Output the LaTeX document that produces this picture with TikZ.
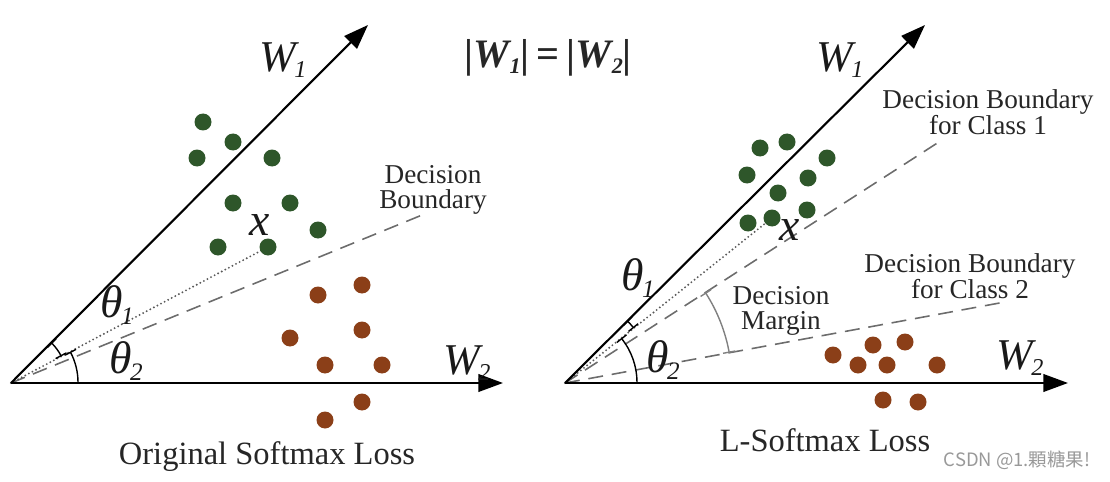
\documentclass[tikz,border=0pt]{standalone}
\usepackage{fontspec}
\setmainfont{Liberation Serif}
\newfontfamily\cjk{Noto Sans CJK SC}
\usetikzlibrary{arrows.meta,calc}

\definecolor{dotgreen}{RGB}{46,86,42}
\definecolor{dotbrown}{RGB}{139,63,24}
\newcommand{\idx}[1]{\kern-0.04em\raisebox{-0.3ex}{\scalebox{0.55}{\itshape #1}}}

\begin{document}
\begin{tikzpicture}[>={Triangle[length=14pt,width=10pt]}, x=0.02cm, y=0.02cm,
  vec/.style={font=\fontsize{25}{25}\selectfont\itshape, text=black!90},
  ang/.style={font=\fontsize{26}{26}\selectfont\itshape, text=black!90},
  lbl/.style={font=\fontsize{15.5}{14.5}\selectfont, align=center, text=black!85},
  title/.style={font=\fontsize{18.5}{20}\selectfont, text=black!85},
  axis/.style={line width=1.2pt, ->},
  bound/.style={gray!85!black, line width=0.9pt, dash pattern=on 8.5pt off 5pt},
  ray/.style={gray!70!black, line width=1.2pt, line cap=round, dash pattern=on 0pt off 2.3pt},
  anglemark/.style={line width=0.8pt, {Bar[width=7pt]}-{Bar[width=7pt]}}]
  \useasboundingbox (0,0) rectangle (1110,481);

  % linker figuur
  \coordinate (O1) at (11,98);
  \coordinate (W1L) at (368,456);
  \coordinate (W2L) at (503,98);
  \coordinate (BL) at (427,268);
  \coordinate (xL) at (268,234);

  \draw[bound] (O1) -- (BL);
  \draw[ray] (O1) -- (xL);
  \draw[axis] (O1) -- (W1L);
  \draw[axis] (O1) -- (W2L);

  % hoeken
  \draw[anglemark] (O1) ++(27.9:57) arc[start angle=27.9, end angle=45, radius=57];
  \draw[anglemark] (O1) ++(0:67) arc[start angle=0, end angle=27.9, radius=67];

  % klassen
  \foreach \a/\b in {203/359, 233/339, 197/323, 272/323, 233/278, 290/278, 318/251, 218/234, 268/234}
    \fill[dotgreen] (\a,\b) circle[radius=8.5];
  \foreach \a/\b in {362/196, 318/186, 362/151, 290/143, 325/116, 382/116, 362/79, 325/61}
    \fill[dotbrown] (\a,\b) circle[radius=8.5];

  \node[vec] (w1l) at (283,421) {W\idx{1}};
  \node[vec] (w2l) at (467,118) {W\idx{2}};
  \node[ang] (t1l) at (117,176) {θ\idx{1}};
  \node[ang] (t2l) at (126,120) {θ\idx{2}};
  \node[ang] (xl) at (260,256) {x};
  \node[lbl] (dbl) at (433,291) {Decision\\Boundary};
  \node[title] (tl) at (267,24) {Original Softmax Loss};

  % norm
  \node[font=\fontsize{23}{23}\selectfont\bfseries, text=black!85] (norm) at (548,423)
    {|\textit{W}\idx{1}|\,=\,|\textit{W}\idx{2}|};

  % rechter figuur
  \coordinate (O2) at (565,98);
  \coordinate (W1R) at (925,456);
  \coordinate (W2R) at (1068,98);
  \coordinate (B1R) at (942,341);
  \coordinate (B2R) at (1005,179);
  \coordinate (xR) at (772,263);

  \draw[bound] (O2) -- (B1R);
  \draw[bound] (O2) -- (B2R);
  \draw[ray] (O2) -- (xR);
  \draw[axis] (O2) -- (W1R);
  \draw[axis] (O2) -- (W2R);

  % hoeken
  \draw[anglemark] (O2) ++(38.6:88) arc[start angle=38.6, end angle=45, radius=88];
  \draw[anglemark] (O2) ++(0:72) arc[start angle=0, end angle=38.6, radius=72];
  \draw[anglemark, gray] (O2) ++(10.4:167) arc[start angle=10.4, end angle=32.8, radius=167];

  % klassen
  \foreach \a/\b in {760/333, 787/339, 827/323, 747/306, 808/303, 778/288, 807/271, 748/258, 772/263}
    \fill[dotgreen] (\a,\b) circle[radius=8.5];
  \foreach \a/\b in {833/126, 873/136, 905/139, 858/116, 887/116, 937/116, 883/81, 918/79}
    \fill[dotbrown] (\a,\b) circle[radius=8.5];

  \node[vec] (w1r) at (840,421) {W\idx{1}};
  \node[vec] (w2r) at (1020,123) {W\idx{2}};
  \node[ang] (t1r) at (638,203) {θ\idx{1}};
  \node[ang] (t2r) at (663,121) {θ\idx{2}};
  \node[ang] (xr) at (790,251) {x};
  \node[lbl] (db1) at (988,369) {Decision Boundary\\for Class 1};
  \node[lbl] (db2) at (970,205) {Decision Boundary\\for Class 2};
  \node[lbl] (dm) at (781,170) {Decision\\Margin};
  \node[title] (tr) at (825,41) {L-Softmax Loss};

  \node[font=\cjk\fontsize{10.5}{12}\selectfont, text=gray!80] (csdn) at (1017,21) {CSDN @1.顆糖果!};
\end{tikzpicture}
\end{document}
